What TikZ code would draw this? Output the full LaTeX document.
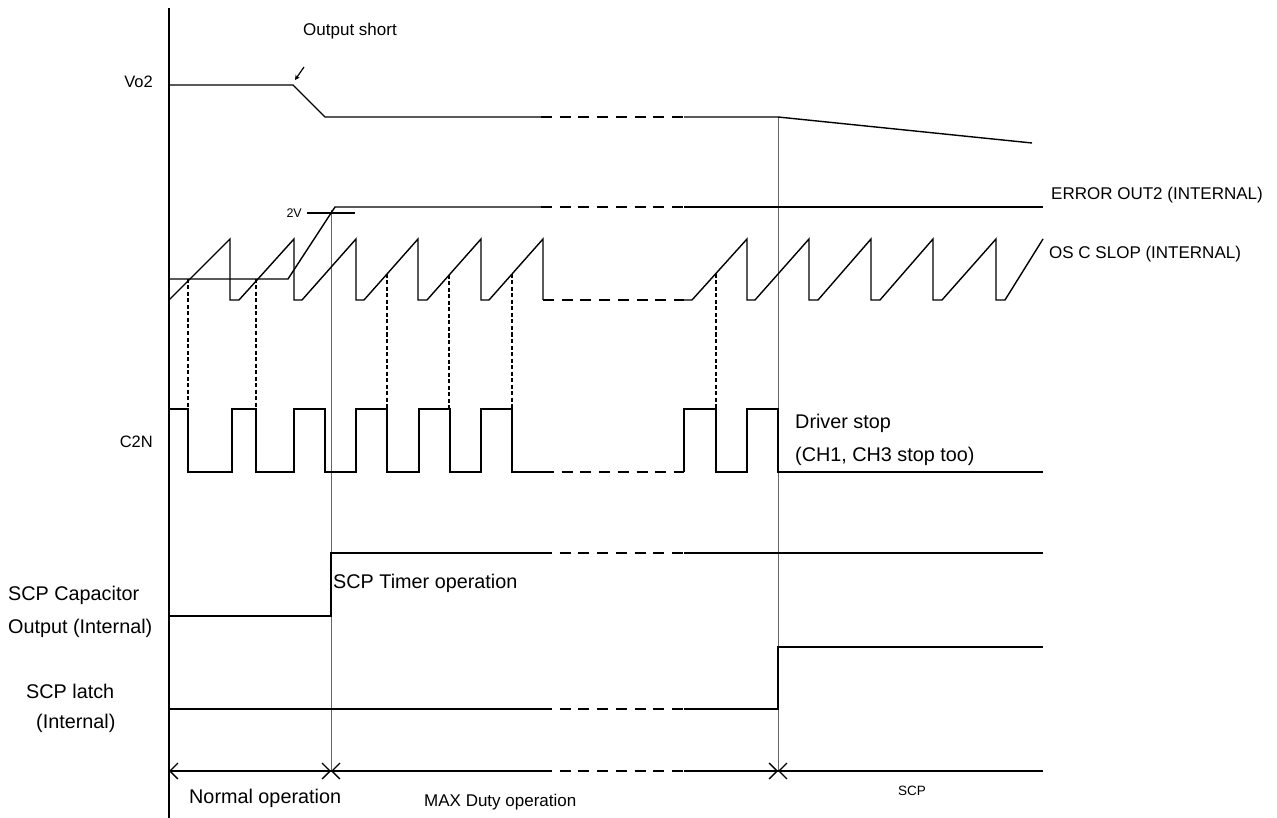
\documentclass[tikz,border=0pt]{standalone}
\usepackage{fontspec}
\setmainfont{Liberation Sans}
\usetikzlibrary{arrows.meta}
\begin{document}
\begin{tikzpicture}[x=1pt,y=-1pt,
  wave/.style={line width=1.4pt, line join=miter},
  gapline/.style={line width=2.8pt, dash pattern=on 11pt off 7.7pt},
  guide/.style={line width=1.3pt, dash pattern=on 4pt off 2.5pt},
  marker/.style={line width=1pt, draw=black!60},
  axisline/.style={line width=2pt},
  dimtip/.style={line width=1.3pt, -{Straight Barb[length=8pt,width=16pt]}},
  lbig/.style={font=\fontsize{19.8}{24}\selectfont, inner sep=0pt, anchor=base west},
  lmid/.style={font=\fontsize{17}{20}\selectfont, inner sep=0pt, anchor=base west},
  lsmall/.style={font=\fontsize{13.5}{16}\selectfont, inner sep=0pt, anchor=base}
]
\useasboundingbox (0,0) rectangle (1277,818);

% axis
\coordinate (axT) at (169,8);
\coordinate (axB) at (169,818);
\draw[axisline] (axT) -- (axB);

% marker lines
\coordinate (m1T) at (331,210);
\coordinate (m1B) at (331,771);
\coordinate (m2T) at (778,117);
\coordinate (m2B) at (778,771);
\draw[marker] (m1T) -- (m1B);
\draw[marker] (m2T) -- (m2B);

% Vo2
\draw[wave] (169,85) -- (293,85) -- (325,117) -- (541,117);
\draw[gapline] (541,117) -- (684,117);
\draw[wave] (684,117) -- (778,117) -- (1032,143);
\coordinate (osA) at (304,67);
\coordinate (osB) at (295,80);
\draw[line width=1.2pt, -{Stealth[length=5pt,width=5pt]}] (osA) -- (osB);

% ERROR OUT2
\draw[wave] (169,279) -- (288,279) -- (335,207) -- (541,207);
\draw[gapline] (541,207) -- (684,207);
\draw[wave] (684,207) -- (1043,207);
\draw[wave] (307,213) -- (355,213);

% OSC slope
\draw[wave] (169,300) -- (230,239) -- (230,300) -- (239,300) -- (294,239) -- (294,300)
  -- (302,300) -- (356,239) -- (356,300) -- (364,300) -- (418,239) -- (418,300)
  -- (427,300) -- (481,239) -- (481,300) -- (489,300) -- (543,239) -- (543,300);
\draw[gapline] (543,300) -- (684,300);
\draw[wave] (684,300) -- (692,300) -- (747,239) -- (747,300) -- (755,300) -- (809,239) -- (809,300)
  -- (818,300) -- (871,239) -- (871,300) -- (880,300) -- (933,239) -- (933,300)
  -- (942,300) -- (996,239) -- (996,300) -- (1005,300) -- (1043,239);

% guides
\foreach \gx/\gy in {188/279, 256/279, 387/274, 449/275, 512/274, 716/274}
  \draw[guide] (\gx,\gy) -- (\gx,409);

% C2N
\draw[wave] (169,409) -- (188,409) -- (188,472) -- (232,472) -- (232,409) -- (256,409) -- (256,472)
  -- (294,472) -- (294,409) -- (325,409) -- (325,472) -- (356,472) -- (356,409) -- (387,409)
  -- (387,472) -- (419,472) -- (419,409) -- (450,409) -- (450,472) -- (481,472) -- (481,409)
  -- (512,409) -- (512,472) -- (543,472);
\draw[gapline] (543,472) -- (684,472);
\draw[wave] (684,472) -- (684,409) -- (716,409) -- (716,472) -- (747,472) -- (747,409)
  -- (778,409) -- (778,472) -- (1043,472);

% SCP capacitor
\draw[wave] (169,616) -- (331,616) -- (331,553) -- (541,553);
\draw[gapline] (541,553) -- (684,553);
\draw[wave] (684,553) -- (1043,553);

% SCP latch
\draw[wave] (169,709) -- (541,709);
\draw[gapline] (541,709) -- (684,709);
\draw[wave] (684,709) -- (778,709) -- (778,647) -- (1043,647);

% timeline
\draw[wave] (169,771) -- (541,771);
\draw[gapline] (541,771) -- (684,771);
\draw[wave] (684,771) -- (1043,771);
\draw[dimtip] (185,771) -- (axB |- m1B);
\draw[dimtip] (315,771) -- (m1B);
\draw[dimtip] (347,771) -- (m1B);
\draw[dimtip] (762,771) -- (m2B);
\draw[dimtip] (794,771) -- (m2B);

% labels
\node[lmid, anchor=base] (tOS) at (350,35.5) {Output short};
\node[lmid, anchor=base east, font=\fontsize{16.5}{20}\selectfont] (tVo) at (153,88) {Vo2};
\node[lsmall, anchor=base east, font=\fontsize{12.5}{15}\selectfont] (t2V) at (302,218) {2V};
\node[lmid] (tEO) at (1051,199.5) {ERROR OUT2 (INTERNAL)};
\node[lmid] (tOSC) at (1049,259) {OS C SLOP (INTERNAL)};
\node[lmid, anchor=base east, font=\fontsize{16.5}{20}\selectfont] (tC2N) at (153,447) {C2N};
\node[lbig] (tDS) at (795,428.5) {Driver stop};
\node[lbig] (tCH) at (795,461) {(CH1, CH3 stop too)};
\node[lbig] (tST) at (333,588.5) {SCP Timer operation};
\node[lbig] (tSC1) at (8,600.5) {SCP Capacitor};
\node[lbig] (tSC2) at (8,633.5) {Output (Internal)};
\node[lbig] (tSL1) at (26,698) {SCP latch};
\node[lbig] (tSL2) at (36,728.3) {(Internal)};
\node[lbig] (tNO) at (189,803.3) {Normal operation};
\node[lmid] (tMD) at (424,806.7) {MAX Duty operation};
\node[lsmall] (tSCP) at (912,795) {SCP};
\end{tikzpicture}
\end{document}
